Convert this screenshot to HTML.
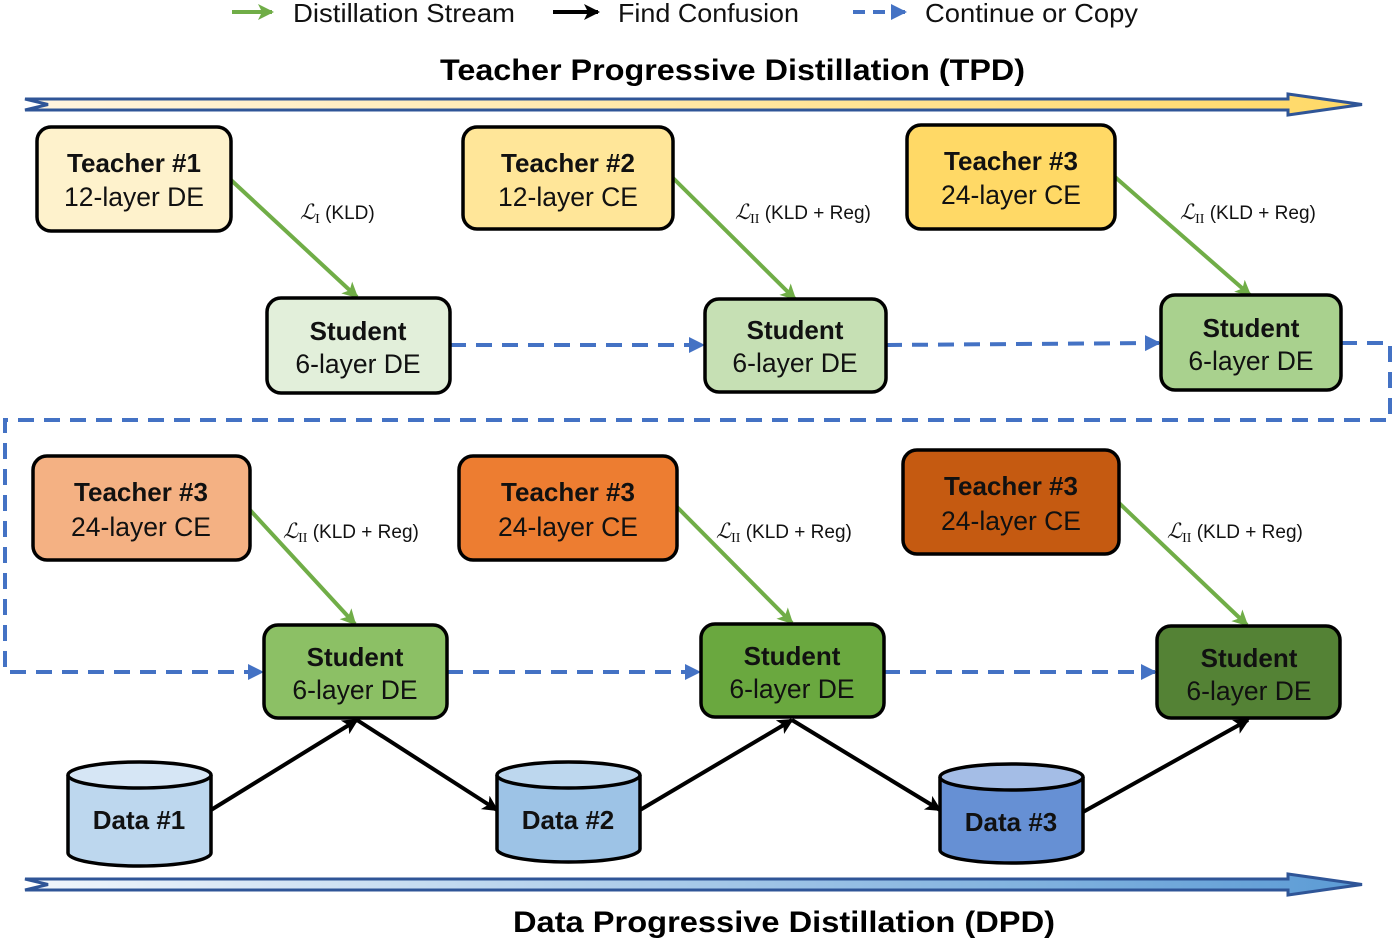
<!DOCTYPE html>
<html><head><meta charset="utf-8"><style>
html,body{margin:0;padding:0;background:#fff;}
svg{display:block;font-family:"Liberation Sans","DejaVu Sans",sans-serif;}
.t1{font-size:26px;font-weight:bold;}
.t2{font-size:26.5px;}
.lg{font-size:26px;}
.lab{font-size:19px;}
</style></head><body>
<svg width="1395" height="942" viewBox="0 0 1395 942" xmlns="http://www.w3.org/2000/svg">
<defs>
<marker id="ag" markerWidth="20" markerHeight="20" refX="14" refY="8" orient="auto" markerUnits="userSpaceOnUse"><path d="M0,0 L16,8 L0,16 L4,8 Z" fill="#70ad47"/></marker>
<marker id="ak" markerWidth="18" markerHeight="18" refX="14" refY="8" orient="auto" markerUnits="userSpaceOnUse"><path d="M0,0 L16,8 L0,16 L4,8 Z" fill="#000"/></marker>
<marker id="ab" markerWidth="18" markerHeight="18" refX="14" refY="8" orient="auto" markerUnits="userSpaceOnUse"><path d="M0,0 L16,8 L0,16 Z" fill="#4472c4"/></marker>
<linearGradient id="gy" x1="0" x2="1"><stop offset="0" stop-color="#fff5e0"/><stop offset="1" stop-color="#ffd966"/></linearGradient>
<linearGradient id="gb" x1="0" x2="1"><stop offset="0" stop-color="#f2f7fc"/><stop offset="1" stop-color="#5b9bd5"/></linearGradient>
</defs>

<!-- legend -->
<line x1="232" y1="12" x2="272" y2="12" stroke="#70ad47" stroke-width="4" marker-end="url(#ag)"/>
<text x="293" y="22" class="lg" fill="#111" textLength="222" lengthAdjust="spacingAndGlyphs">Distillation Stream</text>
<line x1="553" y1="12" x2="598" y2="12" stroke="#000" stroke-width="4" marker-end="url(#ak)"/>
<text x="618" y="22" class="lg" fill="#111" textLength="181" lengthAdjust="spacingAndGlyphs">Find Confusion</text>
<line x1="853" y1="12" x2="905" y2="12" stroke="#4472c4" stroke-width="4" stroke-dasharray="12,8" marker-end="url(#ab)"/>
<text x="925" y="22" class="lg" fill="#111" textLength="213" lengthAdjust="spacingAndGlyphs">Continue or Copy</text>

<text x="440" y="80" font-size="30" font-weight="bold" textLength="585" lengthAdjust="spacingAndGlyphs">Teacher Progressive Distillation (TPD)</text>

<path d="M25,99 L1288,99 L1288,94 L1362,104.5 L1288,115 L1288,110 L25,110 L48,104.5 Z" fill="url(#gy)" stroke="#2f5597" stroke-width="3"/>
<path d="M25,879 L1288,879 L1288,874 L1362,884.5 L1288,895 L1288,890 L25,890 L48,884.5 Z" fill="url(#gb)" stroke="#2f5597" stroke-width="3"/>
<text x="513" y="932" font-size="30" font-weight="bold" textLength="542" lengthAdjust="spacingAndGlyphs">Data Progressive Distillation (DPD)</text>

<g stroke="#4472c4" stroke-width="4" stroke-dasharray="16,10" fill="none">
<line x1="450" y1="345" x2="703" y2="345" marker-end="url(#ab)"/>
<line x1="886" y1="345" x2="1159" y2="343" marker-end="url(#ab)"/>
<path d="M1341,343 L1390,343 L1390,420 L5,420 L5,672 L262,672" marker-end="url(#ab)"/>
<line x1="447" y1="672" x2="699" y2="672" marker-end="url(#ab)"/>
<line x1="884" y1="672" x2="1155" y2="672" marker-end="url(#ab)"/>
</g>

<g stroke="#70ad47" stroke-width="4" marker-end="url(#ag)">
<line x1="231" y1="180" x2="357" y2="297"/>
<line x1="673" y1="178" x2="795" y2="299"/>
<line x1="1115" y1="177" x2="1250" y2="295"/>
<line x1="250" y1="510" x2="355" y2="624"/>
<line x1="677" y1="507" x2="792" y2="623"/>
<line x1="1119" y1="503" x2="1247" y2="625"/>
</g>
<g class="lab" fill="#111">
<text x="300" y="219"><tspan font-family="Liberation Serif,serif" font-style="italic" font-size="21">ℒ</tspan><tspan font-size="14" dy="4" font-family="Liberation Serif,serif">I</tspan><tspan dy="-4"> (KLD)</tspan></text>
<text x="735" y="219"><tspan font-family="Liberation Serif,serif" font-style="italic" font-size="21">ℒ</tspan><tspan font-size="14" dy="4" font-family="Liberation Serif,serif">II</tspan><tspan dy="-4"> (KLD + Reg)</tspan></text>
<text x="1180" y="219"><tspan font-family="Liberation Serif,serif" font-style="italic" font-size="21">ℒ</tspan><tspan font-size="14" dy="4" font-family="Liberation Serif,serif">II</tspan><tspan dy="-4"> (KLD + Reg)</tspan></text>
<text x="283" y="538"><tspan font-family="Liberation Serif,serif" font-style="italic" font-size="21">ℒ</tspan><tspan font-size="14" dy="4" font-family="Liberation Serif,serif">II</tspan><tspan dy="-4"> (KLD + Reg)</tspan></text>
<text x="716" y="538"><tspan font-family="Liberation Serif,serif" font-style="italic" font-size="21">ℒ</tspan><tspan font-size="14" dy="4" font-family="Liberation Serif,serif">II</tspan><tspan dy="-4"> (KLD + Reg)</tspan></text>
<text x="1167" y="538"><tspan font-family="Liberation Serif,serif" font-style="italic" font-size="21">ℒ</tspan><tspan font-size="14" dy="4" font-family="Liberation Serif,serif">II</tspan><tspan dy="-4"> (KLD + Reg)</tspan></text>
</g>

<g stroke="#000" stroke-width="4" marker-end="url(#ak)">
<line x1="211" y1="810" x2="357" y2="720"/>
<line x1="357" y1="720" x2="497" y2="810"/>
<line x1="640" y1="810" x2="792" y2="720"/>
<line x1="792" y1="720" x2="940" y2="810"/>
<line x1="1083" y1="812" x2="1248" y2="720"/>
</g>

<g stroke="#000" stroke-width="3.5">
<rect x="37" y="127" width="194" height="104" rx="14" fill="#fef2cc"/>
<rect x="463" y="127" width="210" height="102" rx="14" fill="#ffe699"/>
<rect x="907" y="125" width="208" height="104" rx="14" fill="#ffd966"/>
<rect x="267" y="298" width="183" height="95" rx="14" fill="#e2efda"/>
<rect x="705" y="299" width="181" height="93" rx="14" fill="#c6e0b4"/>
<rect x="1161" y="295" width="180" height="95" rx="14" fill="#a9d18e"/>
<rect x="33" y="456" width="217" height="104" rx="14" fill="#f4b183"/>
<rect x="459" y="456" width="218" height="104" rx="14" fill="#ed7d31"/>
<rect x="903" y="450" width="216" height="104" rx="14" fill="#c55a11"/>
<rect x="264" y="625" width="183" height="93" rx="14" fill="#8cc065"/>
<rect x="701" y="624" width="183" height="93" rx="14" fill="#6aa83f"/>
<rect x="1157" y="626" width="183" height="92" rx="14" fill="#548235"/>
</g>
<g text-anchor="middle" fill="#111">
<text x="134" y="172" class="t1">Teacher #1</text><text x="134" y="206" class="t2">12-layer DE</text>
<text x="568" y="172" class="t1">Teacher #2</text><text x="568" y="206" class="t2">12-layer CE</text>
<text x="1011" y="170" class="t1">Teacher #3</text><text x="1011" y="204" class="t2">24-layer CE</text>
<text x="358" y="340" class="t1">Student</text><text x="358" y="373" class="t2">6-layer DE</text>
<text x="795" y="339" class="t1">Student</text><text x="795" y="372" class="t2">6-layer DE</text>
<text x="1251" y="337" class="t1">Student</text><text x="1251" y="370" class="t2">6-layer DE</text>
<text x="141" y="501" class="t1">Teacher #3</text><text x="141" y="536" class="t2">24-layer CE</text>
<text x="568" y="501" class="t1">Teacher #3</text><text x="568" y="536" class="t2">24-layer CE</text>
<text x="1011" y="495" class="t1">Teacher #3</text><text x="1011" y="530" class="t2">24-layer CE</text>
<text x="355" y="666" class="t1">Student</text><text x="355" y="699" class="t2">6-layer DE</text>
<text x="792" y="665" class="t1">Student</text><text x="792" y="698" class="t2">6-layer DE</text>
<text x="1249" y="667" class="t1">Student</text><text x="1249" y="700" class="t2">6-layer DE</text>
</g>

<g stroke="#000" stroke-width="3.5">
<path d="M68,775 L68,853 A71.5,13 0 0 0 211,853 L211,775" fill="#bdd7ee"/>
<ellipse cx="139.5" cy="775" rx="71.5" ry="13" fill="#d6e6f5"/>
<path d="M497,775 L497,849 A71.5,13 0 0 0 640,849 L640,775" fill="#9dc3e6"/>
<ellipse cx="568.5" cy="775" rx="71.5" ry="13" fill="#bdd7ee"/>
<path d="M940,777 L940,850 A71.5,13 0 0 0 1083,850 L1083,777" fill="#6690d4"/>
<ellipse cx="1011.5" cy="777" rx="71.5" ry="13" fill="#a4bde6"/>
</g>
<g text-anchor="middle" class="t1" fill="#111">
<text x="139" y="829">Data #1</text>
<text x="568" y="829">Data #2</text>
<text x="1011" y="831">Data #3</text>
</g>
</svg>
</body></html>
